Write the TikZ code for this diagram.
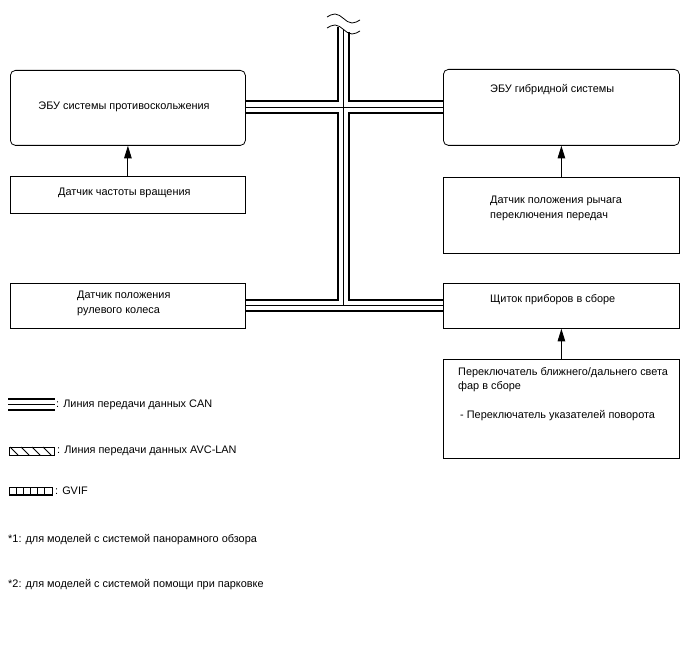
\documentclass[tikz,border=0pt]{standalone}
\usepackage{fontspec}
\setmainfont{Liberation Sans}
\usetikzlibrary{arrows.meta}
\begin{document}
\begin{tikzpicture}[x=1pt,y=-1pt,
  box/.style={draw=black,line width=0.8pt,inner sep=0pt},
  rbox/.style={box,rounded corners=5pt},
  lbl/.style={inner sep=0pt,font=\fontsize{10.9}{14.3}\selectfont,align=left},
  arr/.style={line width=0.9pt,-{Triangle[length=12.5pt,width=7.5pt]}},
  thickbus/.style={line width=2.6pt,line join=miter},
  thinbus/.style={line width=0.8pt},
  legline/.style={line width=0.9pt}]
\useasboundingbox (0,0) rectangle (688,658);
% boxes
\node[rbox,minimum width=235pt,minimum height=75pt,anchor=north west] (A) at (10,70) {};
\node[box,minimum width=235pt,minimum height=37pt,anchor=north west] (B) at (10,176) {};
\node[rbox,minimum width=236pt,minimum height=76pt,anchor=north west] (C) at (443,69) {};
\node[box,minimum width=236pt,minimum height=76pt,anchor=north west] (D) at (443,177) {};
\node[box,minimum width=235pt,minimum height=45pt,anchor=north west] (E) at (10,283) {};
\node[box,minimum width=236pt,minimum height=45pt,anchor=north west] (F) at (443,283) {};
\node[box,minimum width=236pt,minimum height=99pt,anchor=north west] (G) at (443,359) {};
% texts
\node[lbl] (tA) at (124,107) {ЭБУ системы противоскольжения};
\node[lbl,anchor=west] (tB) at (58,193) {Датчик частоты вращения};
\node[lbl,anchor=west] (tC) at (490,90) {ЭБУ гибридной системы};
\node[lbl,anchor=west] (tD) at (490,208.5) {Датчик положения рычага\\переключения передач};
\node[lbl,anchor=west] (tE) at (77,303.5) {Датчик положения\\рулевого колеса};
\node[lbl,anchor=west] (tF) at (490,300) {Щиток приборов в сборе};
\node[lbl,anchor=west] (tG1) at (458,379.5) {Переключатель ближнего/дальнего света\\фар в сборе};
\node[lbl,anchor=west] (tG2) at (460,416) {- Переключатель указателей поворота};
% arrows
\draw[arr] (B.north) -- (A.south);
\draw[arr] (D.north) -- (C.south);
\draw[arr] (G.north) -- (F.south);
% bus coordinates
\coordinate (vlT) at (338,27.5);
\coordinate (vmT) at (343.5,29.5);
\coordinate (vrT) at (349,32);
% CAN bus
\draw[thickbus] (vlT) -- (338,101) -- (A.east |- 0,101);
\draw[thickbus] (vrT) -- (349,101) -- (C.west |- 0,101);
\draw[thickbus] (A.east |- 0,113) -- (338,113) -- (338,300) -- (E.east |- 0,300);
\draw[thickbus] (C.west |- 0,113) -- (349,113) -- (349,300) -- (F.west |- 0,300);
\draw[thickbus] (E.east |- 0,311) -- (F.west |- 0,311);
\draw[thinbus] (vmT) -- (343.5,305.5);
\draw[thinbus] (A.east |- 0,107) -- (C.west |- 0,107);
\draw[thinbus] (E.east |- 0,305.5) -- (F.west |- 0,305.5);
% break mark
\draw[line width=0.8pt] (327,17) sin (335,14) cos (343.5,18.5) sin (352,23) cos (360,20);
\draw[line width=0.8pt] (327,28) sin (335,25) cos (343.5,29.5) sin (352,34) cos (360,31);
% legend: CAN
\draw[line width=2.2pt] (8,399) -- (55,399);
\draw[line width=1.2pt] (8,404.5) -- (55,404.5);
\draw[line width=2.2pt] (8,410) -- (55,410);
\node[lbl,anchor=west] (lg1) at (56,404.5) {: Линия передачи данных CAN};
% legend: AVC-LAN
\draw[legline] (9,447) rectangle (54,455);
\foreach \xx in {10,21,32,43} \draw[legline] (\xx,447) -- (\xx+8,455);
\node[lbl,anchor=west] (lg2) at (57,450.5) {: Линия передачи данных AVC-LAN};
% legend: GVIF
\draw[legline] (9,487) rectangle (52,495);
\foreach \xx in {16.2,23.3,30.5,37.7,44.8} \draw[legline] (\xx,487) -- (\xx,495);
\draw[line width=1.3pt] (9,495) -- (52,495);
\node[lbl,anchor=west] (lg3) at (55,491) {: GVIF};
% notes
\node[lbl,anchor=west] (n1) at (8,540) {*1: для моделей с системой панорамного обзора};
\node[lbl,anchor=west] (n2) at (8,585) {*2: для моделей с системой помощи при парковке};
\end{tikzpicture}
\end{document}
